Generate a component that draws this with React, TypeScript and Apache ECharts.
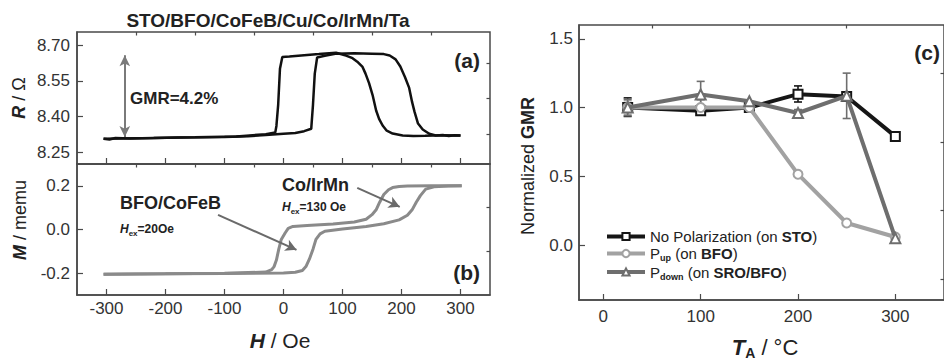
import React, { useEffect, useRef } from 'react';
import * as echarts from 'echarts';

const FONT = '"Liberation Sans", Arial, Helvetica, sans-serif';

// ---------- (a) R vs H ----------
const rSweepUp: [number, number][] = [
  [-305, 8.306], [-295, 8.303], [-285, 8.309], [-260, 8.307], [-220, 8.309], [-180, 8.311],
  [-140, 8.312], [-100, 8.314], [-60, 8.317], [-30, 8.322], [0, 8.327], [20, 8.33], [35, 8.338],
  [47, 8.348], [50, 8.45], [53, 8.58], [57, 8.648], [70, 8.655], [90, 8.664], [120, 8.666],
  [150, 8.664], [170, 8.662], [180, 8.656], [190, 8.64], [198, 8.61], [206, 8.565], [213, 8.52],
  [218, 8.46], [222, 8.42], [228, 8.37], [236, 8.345], [247, 8.327], [258, 8.32], [270, 8.322],
  [280, 8.318], [290, 8.321], [300, 8.32],
];
const rSweepDown: [number, number][] = [
  [300, 8.32], [270, 8.321], [240, 8.319], [220, 8.318], [202, 8.32], [185, 8.328], [175, 8.34],
  [168, 8.362], [162, 8.39], [157, 8.425], [151, 8.49], [145, 8.54], [139, 8.58], [134, 8.608],
  [125, 8.63], [117, 8.645], [106, 8.656], [89, 8.668], [60, 8.662], [30, 8.656], [10, 8.652],
  [-2, 8.65], [-6, 8.6], [-9, 8.45], [-12, 8.36], [-14, 8.332], [-30, 8.325], [-80, 8.316],
  [-150, 8.312], [-220, 8.309], [-305, 8.306],
];

// ---------- (b) M vs H ----------
const mSweepUp: [number, number][] = [
  [-305, -0.205], [-200, -0.203], [-100, -0.202], [0, -0.199], [20, -0.196], [32, -0.188],
  [38, -0.17], [44, -0.135], [50, -0.09], [55, -0.045], [62, -0.02], [70, -0.008], [100, 0.002],
  [140, 0.014], [170, 0.026], [196, 0.044], [210, 0.065], [218, 0.09], [225, 0.125], [232, 0.155],
  [241, 0.185], [255, 0.196], [280, 0.199], [302, 0.2],
];
const mSweepDown: [number, number][] = [
  [302, 0.2], [250, 0.2], [210, 0.199], [196, 0.197], [185, 0.192], [178, 0.182], [170, 0.16],
  [163, 0.125], [157, 0.09], [150, 0.068], [140, 0.047], [120, 0.034], [84, 0.025], [40, 0.018],
  [16, 0.014], [8, 0.005], [3, -0.015], [-4, -0.047], [-8, -0.09], [-12, -0.14], [-16, -0.17],
  [-20, -0.184], [-30, -0.195], [-100, -0.2], [-200, -0.203], [-305, -0.205],
];

const hMajorTicks = [-300, -200, -100, 0, 100, 200, 300];
const hMinorTicks = [-250, -150, -50, 50, 150, 250];
const rMajorTicks = [8.25, 8.4, 8.55, 8.7];
const rMinorTicks = [8.325, 8.475, 8.625];
const mMajorTicks = [-0.2, 0, 0.2];
const mMinorTicks = [-0.1, 0.1];

// ---------- (c) Normalized GMR vs annealing temperature ----------
const annealTemps = [25, 100, 150, 200, 250, 300];
const noPolGMR = [1.0, 0.977, 1.0, 1.097, 1.08, 0.79];
const pUpGMR = [1.0, 1.0, 1.0, 0.515, 0.16, 0.058];
const pDownGMR = [1.0, 1.095, 1.045, 0.96, 1.085, 0.05];
const noPolErr = [[25, 0.935, 1.07], [200, 1.04, 1.157]];
const pUpErr = [[25, 0.95, 1.05], [100, 0.945, 1.055]];
const pDownErr = [[25, 0.94, 1.06], [100, 1.0, 1.19], [200, 0.935, 0.985], [250, 0.92, 1.25]];

const tMajorTicks = [0, 100, 200, 300];
const tMinorTicks = [50, 150, 250];
const gMajorTicks = [0, 0.5, 1.0, 1.5];
const gMinorTicks = [-0.25, 0.25, 0.75, 1.25];

const seriesNames = ['No Polarization (on STO)', 'P_up (on BFO)', 'P_down (on SRO/BFO)'];
const legendLabels: Record<string, string> = {
  'No Polarization (on STO)': 'No Polarization (on {b|STO})',
  'P_up (on BFO)': 'P{sub|up} (on {b|BFO})',
  'P_down (on SRO/BFO)': 'P{sub|down} (on {b|SRO/BFO})',
};

const AXIS_COLOR = '#4a4a4a';
const LABEL_COLOR = '#333';

function majorAxis(gridIndex: number, min: number, max: number, ticks: number[], showLabel: boolean, digits: number, margin: number) {
  return {
    type: 'value', gridIndex, min, max,
    splitLine: { show: false },
    axisLine: { show: true, onZero: false, lineStyle: { color: AXIS_COLOR, width: 1.5 } },
    axisTick: { show: true, inside: true, length: 6, customValues: ticks, lineStyle: { color: AXIS_COLOR, width: 1.2 } },
    axisLabel: {
      show: showLabel, customValues: ticks, margin,
      formatter: (v: number) => v.toFixed(digits),
      fontFamily: FONT, fontSize: 17, color: LABEL_COLOR,
    },
  };
}
function minorAxis(gridIndex: number, min: number, max: number, ticks: number[]) {
  return {
    type: 'value', gridIndex, min, max,
    splitLine: { show: false },
    axisLine: { show: false, onZero: false },
    axisTick: { show: true, inside: true, length: 3.5, customValues: ticks, lineStyle: { color: AXIS_COLOR, width: 1.2 } },
    axisLabel: { show: false },
  };
}

function errRender(color: string) {
  return (params: any, api: any) => {
    const x = api.value(0);
    const lo = api.coord([x, api.value(1)]);
    const hi = api.coord([x, api.value(2)]);
    const st = { stroke: color, lineWidth: 1.6 };
    return {
      type: 'group',
      children: [
        { type: 'line', shape: { x1: lo[0], y1: lo[1], x2: hi[0], y2: hi[1] }, style: st },
        { type: 'line', shape: { x1: lo[0] - 4, y1: lo[1], x2: lo[0] + 4, y2: lo[1] }, style: st },
        { type: 'line', shape: { x1: hi[0] - 4, y1: hi[1], x2: hi[0] + 4, y2: hi[1] }, style: st },
      ],
    };
  };
}

export default function App() {
  const ref = useRef<HTMLDivElement>(null);
  useEffect(() => {
    document.body.style.margin = '0';
    if (!ref.current) return;
    const chart = echarts.init(ref.current, undefined, { renderer: 'svg' });
    const noPolColor = '#161616';
    const upColor = '#a2a2a2';
    const downColor = '#6e6e6e';
    const bwColor = '#8a8a8a';

    const option: any = {
      animation: false,
      textStyle: { fontFamily: FONT },
      grid: [
        { left: 77, top: 32, width: 413, height: 132, show: true, borderColor: AXIS_COLOR, borderWidth: 1.5, backgroundColor: 'transparent' },
        { left: 77, top: 164, width: 413, height: 131, show: true, borderColor: AXIS_COLOR, borderWidth: 1.5, backgroundColor: 'transparent' },
        { left: 579, top: 25, width: 375, height: 275, show: true, borderColor: AXIS_COLOR, borderWidth: 1.5, backgroundColor: 'transparent' },
      ],
      xAxis: [
        majorAxis(0, -350, 350, hMajorTicks, false, 0, 5),
        majorAxis(1, -350, 350, hMajorTicks, true, 0, 5),
        majorAxis(2, -25, 350, tMajorTicks, true, 0, 8),
        minorAxis(0, -350, 350, hMinorTicks),
        minorAxis(1, -350, 350, hMinorTicks),
        minorAxis(2, -25, 350, tMinorTicks),
      ],
      yAxis: [
        majorAxis(0, 8.2, 8.755, rMajorTicks, true, 2, 7),
        majorAxis(1, -0.3, 0.3, mMajorTicks, true, 1, 7),
        majorAxis(2, -0.4, 1.6, gMajorTicks, true, 1, 6),
        minorAxis(0, 8.2, 8.755, rMinorTicks),
        minorAxis(1, -0.3, 0.3, mMinorTicks),
        minorAxis(2, -0.4, 1.6, gMinorTicks),
      ],
      legend: {
        orient: 'vertical', left: 600, top: 224, itemGap: 2, itemWidth: 38, itemHeight: 9,
        selectedMode: false,
        data: seriesNames,
        lineStyle: { width: 4 },
        formatter: (name: string) => legendLabels[name],
        textStyle: {
          fontFamily: FONT, fontSize: 15, color: '#222',
          rich: {
            b: { fontFamily: FONT, fontSize: 15, fontWeight: 'bold', color: '#222' },
            sub: { fontFamily: FONT, fontSize: 9, fontWeight: 'bold', color: '#222', padding: [9, 0, 0, 0] },
          },
        },
      },
      series: [
        {
          type: 'line', name: 'R up', xAxisIndex: 0, yAxisIndex: 0, data: rSweepUp, showSymbol: false,
          lineStyle: { color: '#111', width: 2.5 }, itemStyle: { color: '#111' },
          markLine: {
            silent: true, symbol: ['arrow', 'arrow'], symbolSize: [8, 11],
            label: { show: false },
            lineStyle: { color: '#7a7a7a', width: 2, type: 'solid' },
            data: [[{ coord: [-269, 8.313] }, { coord: [-269, 8.657] }]],
          },
        },
        {
          type: 'line', name: 'R down', xAxisIndex: 0, yAxisIndex: 0, data: rSweepDown, showSymbol: false,
          lineStyle: { color: '#111', width: 2.5 }, itemStyle: { color: '#111' },
        },
        {
          type: 'line', name: 'M up', xAxisIndex: 1, yAxisIndex: 1, data: mSweepUp, showSymbol: false,
          lineStyle: { color: bwColor, width: 3 }, itemStyle: { color: bwColor },
          markLine: {
            silent: true, symbol: ['none', 'arrow'], symbolSize: [9, 11],
            label: { show: false },
            lineStyle: { color: '#6a6a6a', width: 2, type: 'solid' },
            data: [
              [{ coord: [-111, 0.067] }, { coord: [22, -0.093] }],
              [{ coord: [125, 0.191] }, { coord: [197, 0.104] }],
            ],
          },
        },
        {
          type: 'line', name: 'M down', xAxisIndex: 1, yAxisIndex: 1, data: mSweepDown, showSymbol: false,
          lineStyle: { color: bwColor, width: 3 }, itemStyle: { color: bwColor },
        },
        {
          type: 'custom', name: 'noPolErr', xAxisIndex: 2, yAxisIndex: 2, data: noPolErr, z: 1,
          encode: { x: 0, y: [1, 2] }, renderItem: errRender(noPolColor), silent: true,
        },
        {
          type: 'custom', name: 'pUpErr', xAxisIndex: 2, yAxisIndex: 2, data: pUpErr, z: 1,
          encode: { x: 0, y: [1, 2] }, renderItem: errRender(upColor), silent: true,
        },
        {
          type: 'custom', name: 'pDownErr', xAxisIndex: 2, yAxisIndex: 2, data: pDownErr, z: 1,
          encode: { x: 0, y: [1, 2] }, renderItem: errRender(downColor), silent: true,
        },
        {
          type: 'line', name: seriesNames[0], xAxisIndex: 2, yAxisIndex: 2, z: 3,
          data: annealTemps.map((t, i) => [t, noPolGMR[i]]),
          symbol: 'emptyRect', symbolSize: 9,
          lineStyle: { color: noPolColor, width: 4 }, itemStyle: { color: noPolColor, borderWidth: 2 },
        },
        {
          type: 'line', name: seriesNames[1], xAxisIndex: 2, yAxisIndex: 2, z: 4,
          data: annealTemps.map((t, i) => [t, pUpGMR[i]]),
          symbol: 'emptyCircle', symbolSize: 9,
          lineStyle: { color: upColor, width: 4 }, itemStyle: { color: upColor, borderWidth: 2 },
        },
        {
          type: 'line', name: seriesNames[2], xAxisIndex: 2, yAxisIndex: 2, z: 5,
          data: annealTemps.map((t, i) => [t, pDownGMR[i]]),
          symbol: 'emptyTriangle', symbolSize: 10,
          lineStyle: { color: downColor, width: 4 }, itemStyle: { color: downColor, borderWidth: 2 },
        },
      ],
      graphic: [
        {
          type: 'text', x: 268, y: 20,
          style: { text: 'STO/BFO/CoFeB/Cu/Co/IrMn/Ta', fontFamily: FONT, fontSize: 19, fontWeight: 'bold', fill: '#222', align: 'center', verticalAlign: 'middle' },
        },
        {
          type: 'text', x: 130, y: 98,
          style: { text: 'GMR=4.2%', fontFamily: FONT, fontSize: 17, fontWeight: 'bold', fill: '#222', align: 'left', verticalAlign: 'middle' },
        },
        {
          type: 'text', x: 480, y: 60,
          style: { text: '(a)', fontFamily: FONT, fontSize: 21, fontWeight: 'bold', fill: '#222', align: 'right', verticalAlign: 'middle' },
        },
        {
          type: 'text', x: 480, y: 272,
          style: { text: '(b)', fontFamily: FONT, fontSize: 21, fontWeight: 'bold', fill: '#222', align: 'right', verticalAlign: 'middle' },
        },
        {
          type: 'text', x: 940, y: 52,
          style: { text: '(c)', fontFamily: FONT, fontSize: 21, fontWeight: 'bold', fill: '#222', align: 'right', verticalAlign: 'middle' },
        },
        {
          type: 'text', x: 120, y: 203,
          style: { text: 'BFO/CoFeB', fontFamily: FONT, fontSize: 18, fontWeight: 'bold', fill: '#222', align: 'left', verticalAlign: 'middle' },
        },
        {
          type: 'text', x: 120, y: 229,
          style: {
            text: '{h|H}{s|ex}{n|=20Oe}', align: 'left', verticalAlign: 'middle',
            rich: {
              h: { fontFamily: FONT, fontSize: 12, fontWeight: 'bold', fontStyle: 'italic', fill: '#222' },
              s: { fontFamily: FONT, fontSize: 8, fontWeight: 'bold', fill: '#222', padding: [9, 0, 0, 0] },
              n: { fontFamily: FONT, fontSize: 12, fontWeight: 'bold', fill: '#222' },
            },
          },
        },
        {
          type: 'text', x: 282, y: 185,
          style: { text: 'Co/IrMn', fontFamily: FONT, fontSize: 18, fontWeight: 'bold', fill: '#222', align: 'left', verticalAlign: 'middle' },
        },
        {
          type: 'text', x: 282, y: 207,
          style: {
            text: '{h|H}{s|ex}{n|=130 Oe}', align: 'left', verticalAlign: 'middle',
            rich: {
              h: { fontFamily: FONT, fontSize: 12, fontWeight: 'bold', fontStyle: 'italic', fill: '#222' },
              s: { fontFamily: FONT, fontSize: 8, fontWeight: 'bold', fill: '#222', padding: [9, 0, 0, 0] },
              n: { fontFamily: FONT, fontSize: 12, fontWeight: 'bold', fill: '#222' },
            },
          },
        },
        {
          type: 'text', x: 19, y: 98, rotation: Math.PI / 2,
          style: {
            text: '{i|R}{n| / Ω}', align: 'center', verticalAlign: 'middle',
            rich: {
              i: { fontFamily: FONT, fontSize: 18, fontWeight: 'bold', fontStyle: 'italic', fill: '#222' },
              n: { fontFamily: FONT, fontSize: 18, fill: '#222' },
            },
          },
        },
        {
          type: 'text', x: 20, y: 220, rotation: Math.PI / 2,
          style: {
            text: '{i|M}{n| / memu}', align: 'center', verticalAlign: 'middle',
            rich: {
              i: { fontFamily: FONT, fontSize: 18, fontWeight: 'bold', fontStyle: 'italic', fill: '#222' },
              n: { fontFamily: FONT, fontSize: 18, fill: '#222' },
            },
          },
        },
        {
          type: 'text', x: 280, y: 340,
          style: {
            text: '{i|H}{n| / Oe}', align: 'center', verticalAlign: 'middle',
            rich: {
              i: { fontFamily: FONT, fontSize: 21, fontWeight: 'bold', fontStyle: 'italic', fill: '#222' },
              n: { fontFamily: FONT, fontSize: 21, fill: '#222' },
            },
          },
        },
        {
          type: 'text', x: 528, y: 166, rotation: Math.PI / 2,
          style: {
            text: '{n|Normalized }{b|GMR}', align: 'center', verticalAlign: 'middle',
            rich: {
              n: { fontFamily: FONT, fontSize: 18, fill: '#222' },
              b: { fontFamily: FONT, fontSize: 18, fontWeight: 'bold', fill: '#222' },
            },
          },
        },
        {
          type: 'text', x: 765, y: 347,
          style: {
            text: '{i|T}{s|A}{n| / °C}', align: 'center', verticalAlign: 'middle',
            rich: {
              i: { fontFamily: FONT, fontSize: 22, fontWeight: 'bold', fontStyle: 'italic', fill: '#222' },
              s: { fontFamily: FONT, fontSize: 14, fontWeight: 'bold', fill: '#222', padding: [12, 0, 0, 0] },
              n: { fontFamily: FONT, fontSize: 22, fill: '#222' },
            },
          },
        },
      ],
    };
    chart.setOption(option);
    return () => chart.dispose();
  }, []);
  return <div ref={ref} style={{ width: 944, height: 364 }} />;
}
